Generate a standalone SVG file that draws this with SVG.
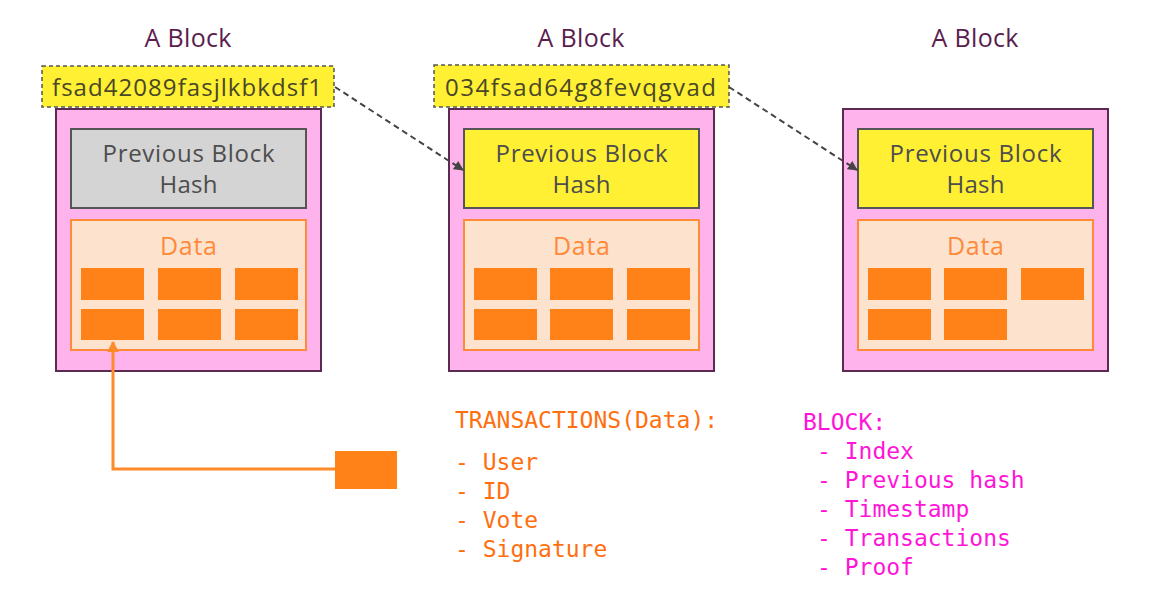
<svg xmlns="http://www.w3.org/2000/svg" width="1159" height="601" viewBox="0 0 1159 601">
<style>
.title{font-family:"Open Sans","Liberation Sans",sans-serif;font-size:25px;fill:#5b1d4e;text-anchor:middle}
.hash{fill:#fff033;stroke:#555;stroke-width:1.5;stroke-dasharray:4 3}
.hashtxt{font-family:"Open Sans","Liberation Sans",sans-serif;font-size:24px;fill:#4a4726}
.outer{fill:#ffb3ec;stroke:#5b2a50;stroke-width:2}
.prev{stroke:#555;stroke-width:2}
.prevtxt{font-family:"Open Sans","Liberation Sans",sans-serif;font-size:24px;fill:#4d4d4d;text-anchor:middle}
.data{fill:#fde3cd;stroke:#ff8a3a;stroke-width:2}
.datatxt{font-family:"Open Sans","Liberation Sans",sans-serif;font-size:25px;fill:#ff8a3a;text-anchor:middle}
.tx{fill:#ff8218}
.mono{font-family:"DejaVu Sans Mono",monospace;font-size:23px}
</style>
<defs>
<marker id="ah" markerWidth="10" markerHeight="10" refX="9" refY="5" orient="auto" markerUnits="userSpaceOnUse">
<path d="M0,0 L10,5 L0,10 z" fill="#444"/>
</marker>
<marker id="ao" markerWidth="12" markerHeight="12" refX="10" refY="6" orient="auto" markerUnits="userSpaceOnUse">
<path d="M0,0 L11,6 L0,12 z" fill="#ff8a2a"/>
</marker>
</defs>
<rect width="1159" height="601" fill="#fff"/>

<g id="block1">
<text class="title" x="188" y="47" textLength="87">A Block</text>
<rect class="outer" x="56" y="109" width="265" height="262"/>
<rect class="hash" x="42" y="66" width="292" height="41"/>
<text class="hashtxt" x="52" y="96" textLength="270">fsad42089fasjlkbkdsf1</text>
<rect class="prev" x="71" y="129" width="235" height="79" fill="#d4d4d4"/>
<text class="prevtxt" x="188.5" y="162" textLength="172">Previous Block</text>
<text class="prevtxt" x="188.5" y="193" textLength="58">Hash</text>
<rect class="data" x="71" y="220" width="235" height="130"/>
<text class="datatxt" x="188.5" y="255" textLength="57">Data</text>
<rect class="tx" x="81" y="268" width="63" height="32"/>
<rect class="tx" x="158" y="268" width="63" height="32"/>
<rect class="tx" x="235" y="268" width="63" height="32"/>
<rect class="tx" x="81" y="309" width="63" height="31"/>
<rect class="tx" x="158" y="309" width="63" height="31"/>
<rect class="tx" x="235" y="309" width="63" height="31"/>
</g>

<g id="block2">
<text class="title" x="581" y="47" textLength="87">A Block</text>
<rect class="outer" x="449" y="109" width="265" height="262"/>
<rect class="hash" x="434" y="65" width="295" height="42"/>
<text class="hashtxt" x="445" y="96" textLength="271">034fsad64g8fevqgvad</text>
<rect class="prev" x="464" y="129" width="235" height="79" fill="#fff033"/>
<text class="prevtxt" x="581.5" y="162" textLength="172">Previous Block</text>
<text class="prevtxt" x="581.5" y="193" textLength="58">Hash</text>
<rect class="data" x="464" y="220" width="235" height="130"/>
<text class="datatxt" x="581.5" y="255" textLength="57">Data</text>
<rect class="tx" x="474" y="268" width="63" height="32"/>
<rect class="tx" x="550" y="268" width="63" height="32"/>
<rect class="tx" x="627" y="268" width="63" height="32"/>
<rect class="tx" x="474" y="309" width="63" height="31"/>
<rect class="tx" x="550" y="309" width="63" height="31"/>
<rect class="tx" x="627" y="309" width="63" height="31"/>
</g>

<g id="block3">
<text class="title" x="975" y="47" textLength="87">A Block</text>
<rect class="outer" x="843" y="109" width="265" height="262"/>
<rect class="prev" x="858" y="129" width="235" height="79" fill="#fff033"/>
<text class="prevtxt" x="975.5" y="162" textLength="172">Previous Block</text>
<text class="prevtxt" x="975.5" y="193" textLength="58">Hash</text>
<rect class="data" x="858" y="220" width="235" height="130"/>
<text class="datatxt" x="975.5" y="255" textLength="57">Data</text>
<rect class="tx" x="868" y="268" width="63" height="32"/>
<rect class="tx" x="944" y="268" width="63" height="32"/>
<rect class="tx" x="1021" y="268" width="63" height="32"/>
<rect class="tx" x="868" y="309" width="63" height="31"/>
<rect class="tx" x="944" y="309" width="63" height="31"/>
</g>

<g id="transaction">
<rect class="tx" x="335" y="451" width="62" height="38"/>
</g>

<g id="connectors">
<path d="M335,87 L463,170" fill="none" stroke="#444" stroke-width="2" stroke-dasharray="6 4" marker-end="url(#ah)"/>
<path d="M729,87 L857,170" fill="none" stroke="#444" stroke-width="2" stroke-dasharray="6 4" marker-end="url(#ah)"/>
<path d="M335,469 L113,469 L113,342" fill="none" stroke="#ff8a2a" stroke-width="3" marker-end="url(#ao)"/>
</g>

<g id="transactions-text" class="mono" fill="#ff6f0f">
<text x="455" y="428">TRANSACTIONS(Data):</text>
<text x="455" y="470">- User</text>
<text x="455" y="499">- ID</text>
<text x="455" y="528">- Vote</text>
<text x="455" y="557">- Signature</text>
</g>

<g id="block-text" class="mono" fill="#ff14d8">
<text x="803" y="430">BLOCK:</text>
<text x="817" y="459">- Index</text>
<text x="817" y="488">- Previous hash</text>
<text x="817" y="517">- Timestamp</text>
<text x="817" y="546">- Transactions</text>
<text x="817" y="575">- Proof</text>
</g>
</svg>
